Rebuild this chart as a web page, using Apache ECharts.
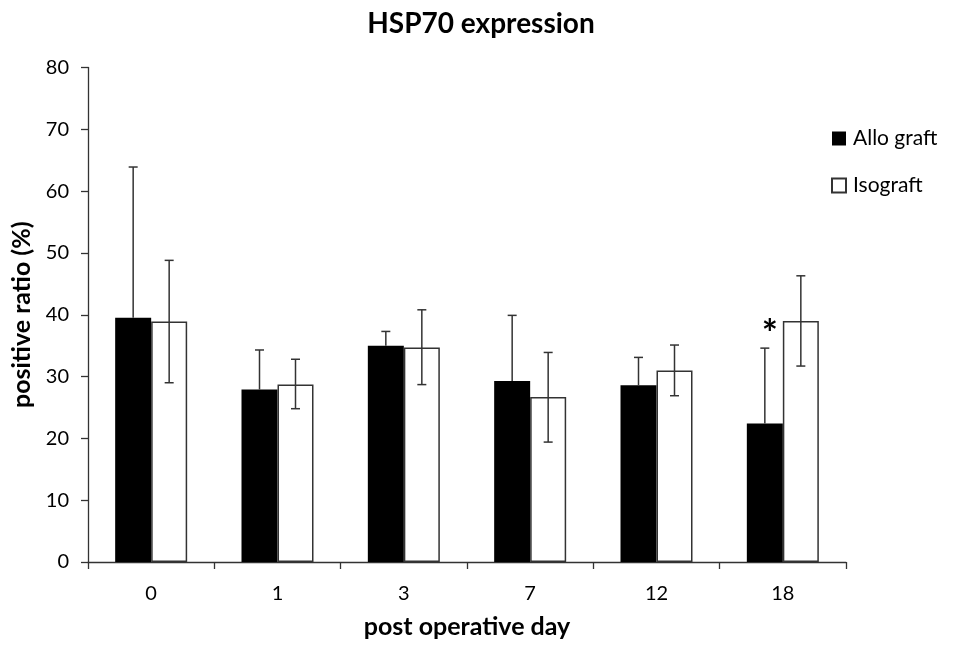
<!DOCTYPE html>
<html>
<head>
<meta charset="utf-8">
<title>HSP70 expression</title>
<script src="https://cdn.jsdelivr.net/npm/echarts@6/dist/echarts.min.js"></script>
<style>
  html, body { margin: 0; padding: 0; background: #fff; }
  #chart { width: 962px; height: 650px; }
</style>
</head>
<body>
<div id="chart"></div>
<script>
// data
const days = ['0', '1', '3', '7', '12', '18'];
const alloMean = [39.5, 27.9, 35.0, 29.3, 28.6, 22.4];
const alloUpper = [63.9, 34.3, 37.3, 39.9, 33.1, 34.6];
const isoMean = [38.9, 28.7, 34.7, 26.7, 31.0, 39.0];
const isoUpper = [48.8, 32.8, 40.8, 33.9, 35.1, 46.3];
const isoLower = [29.0, 24.8, 28.7, 19.4, 26.9, 31.7];
const sigMarks = ['', '', '', '', '', '*'];
const yTicks = [0, 10, 20, 30, 40, 50, 60, 70, 80];

const FONT = 'Lato, "Open Sans", sans-serif';
const INK = '#333';
const BAR_W = 36;

// error bar drawn as a custom series; offset moves it onto the black or white bar
function errorBars(offset, upper, lower, marks) {
  return function (params, api) {
    const i = api.value(0);
    const top = api.coord([i, upper[i]]);
    const bot = api.coord([i, lower ? lower[i] : api.value(1)]);
    const x = top[0] + offset;
    const cap = 4.5;
    const children = [
      { type: 'line', shape: { x1: x, y1: top[1], x2: x, y2: bot[1] }, style: { stroke: INK, lineWidth: 1.5 } },
      { type: 'line', shape: { x1: x - cap, y1: top[1], x2: x + cap, y2: top[1] }, style: { stroke: INK, lineWidth: 1.5 } }
    ];
    if (lower) {
      children.push({ type: 'line', shape: { x1: x - cap, y1: bot[1], x2: x + cap, y2: bot[1] }, style: { stroke: INK, lineWidth: 1.5 } });
    }
    if (marks && marks[i]) {
      children.push({
        type: 'text',
        style: { text: marks[i], x: x + 5, y: top[1] - 13, align: 'center', verticalAlign: 'middle', font: 'bold 38px ' + FONT, fill: '#000' }
      });
    }
    return { type: 'group', children: children };
  };
}

const chart = echarts.init(document.getElementById('chart'));

chart.setOption({
  animation: false,
  title: {
    text: 'HSP70 expression',
    left: 'center',
    top: 5,
    textStyle: { fontFamily: FONT, fontWeight: 'bold', fontSize: 28, color: '#000' }
  },
  legend: {
    orient: 'vertical',
    left: 826,
    top: 123,
    itemWidth: 14,
    itemHeight: 14,
    itemGap: 26,
    icon: 'rect',
    data: ['Allo graft', 'Isograft'],
    textStyle: { fontFamily: FONT, fontSize: 21, color: '#000', padding: [0, 0, 0, 2] }
  },
  grid: { left: 88, right: 116, top: 67.5, bottom: 88, containLabel: false },
  xAxis: {
    type: 'category',
    data: days,
    name: 'post operative day',
    nameLocation: 'middle',
    nameGap: 52,
    nameTextStyle: { fontFamily: FONT, fontWeight: 'bold', fontSize: 25, color: '#000' },
    axisLine: { lineStyle: { color: INK, width: 1.3 } },
    axisTick: { show: true, length: 7, lineStyle: { color: INK, width: 1.3 } },
    axisLabel: { fontFamily: FONT, fontSize: 20, color: '#000', margin: 22 }
  },
  yAxis: {
    type: 'value',
    min: 0,
    max: 80,
    interval: 10,
    name: 'positive ratio (%)',
    nameLocation: 'middle',
    nameGap: 48,
    nameTextStyle: { fontFamily: FONT, fontWeight: 'bold', fontSize: 25, color: '#000' },
    axisLine: { show: true, lineStyle: { color: INK, width: 1.3 } },
    axisTick: { show: true, length: 7, lineStyle: { color: INK, width: 1.3 } },
    axisLabel: { fontFamily: FONT, fontSize: 20, color: '#000', margin: 19,
      formatter: v => yTicks.includes(v) ? String(v) : '' },
    splitLine: { show: false }
  },
  series: [
    {
      name: 'Allo graft',
      type: 'bar',
      barWidth: BAR_W,
      barGap: '0%',
      data: alloMean,
      itemStyle: { color: '#000', borderColor: '#000', borderWidth: 0 }
    },
    {
      name: 'Isograft',
      type: 'bar',
      barWidth: BAR_W,
      barGap: '0%',
      data: isoMean,
      itemStyle: { color: '#fff', borderColor: INK, borderWidth: 1.5 }
    },
    {
      type: 'custom',
      silent: true,
      z: 5,
      renderItem: errorBars(-BAR_W / 2, alloUpper, null, sigMarks),
      data: alloMean.map((v, i) => [i, v])
    },
    {
      type: 'custom',
      silent: true,
      z: 5,
      renderItem: errorBars(BAR_W / 2, isoUpper, isoLower, null),
      data: isoMean.map((v, i) => [i, v])
    }
  ]
});
</script>
</body>
</html>
